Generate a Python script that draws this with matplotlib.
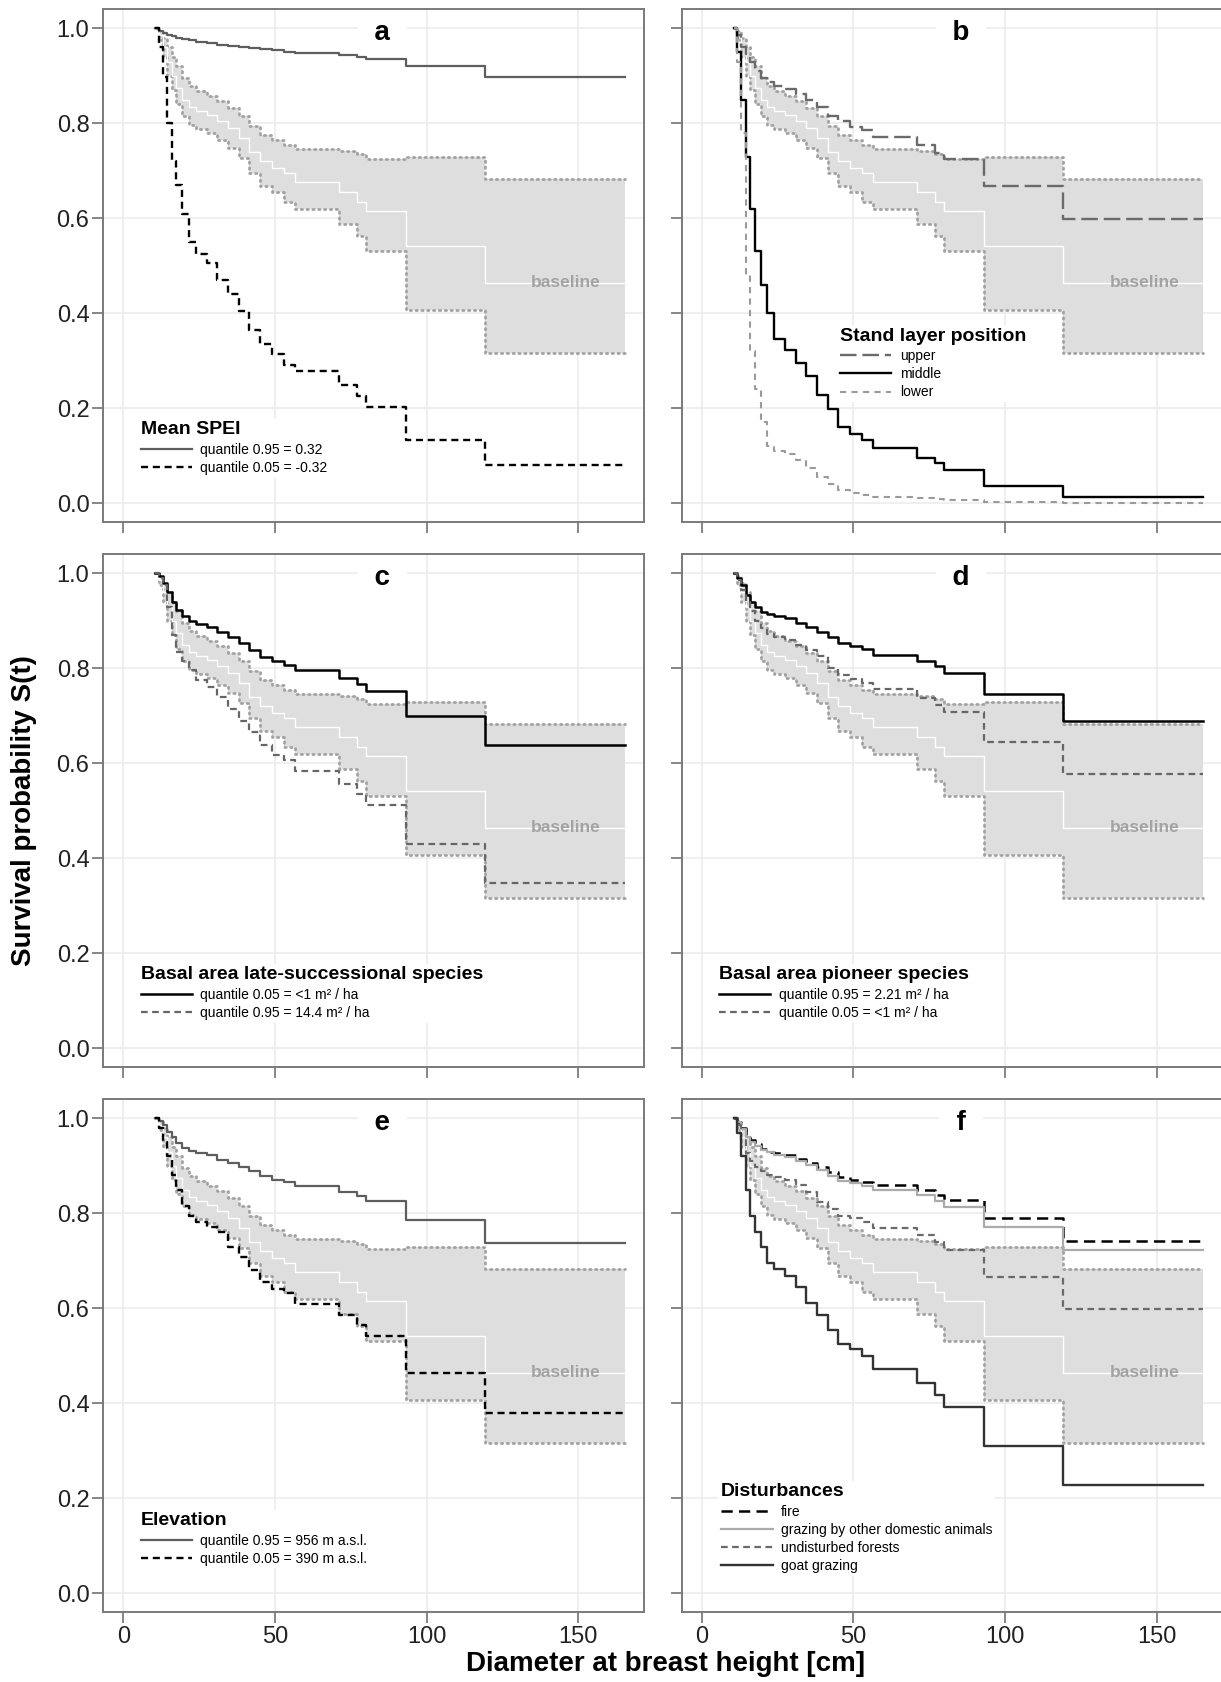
import matplotlib
matplotlib.use("Agg")
from matplotlib import pyplot as plt
from matplotlib.lines import Line2D

plt.rcParams['font.family'] = ['Liberation Sans', 'DejaVu Sans']

# =============================================================================
# Data: survival probability at diameter steps
# =============================================================================
t = [10.5, 11.8, 13, 14.5, 16, 17.5, 19.5, 21.5, 24, 27.5, 31, 34.5, 38, 41.5,
     45, 49, 53, 56.5, 71, 77, 80, 93.2, 119.3]
t_end = 165.3

base_mid = [1.0, 0.985, 0.96, 0.93, 0.90, 0.875, 0.85, 0.835, 0.826, 0.818, 0.805, 0.789,
            0.768, 0.74, 0.72, 0.706, 0.695, 0.676, 0.655, 0.635, 0.616, 0.541, 0.464]
base_hi = [1.0, 0.995, 0.98, 0.96, 0.94, 0.92, 0.895, 0.878, 0.868, 0.858, 0.846, 0.832,
           0.816, 0.795, 0.776, 0.765, 0.755, 0.745, 0.742, 0.735, 0.724, 0.730, 0.683]
base_lo = [1.0, 0.975, 0.94, 0.90, 0.87, 0.84, 0.815, 0.797, 0.787, 0.78, 0.765, 0.748,
           0.727, 0.695, 0.668, 0.655, 0.635, 0.62, 0.587, 0.562, 0.53, 0.406, 0.317]

# a - Mean SPEI
spei_q95 = [1.0, 0.995, 0.99, 0.986, 0.983, 0.98, 0.977, 0.975, 0.972, 0.968, 0.965, 0.963,
            0.961, 0.959, 0.957, 0.954, 0.951, 0.948, 0.943, 0.94, 0.936, 0.92, 0.898]
spei_q05 = [1.0, 0.96, 0.897, 0.8, 0.72, 0.67, 0.61, 0.55, 0.525, 0.505, 0.47, 0.44,
            0.405, 0.365, 0.335, 0.315, 0.292, 0.278, 0.249, 0.226, 0.203, 0.134, 0.08]
# b - stand layer position
layer_upper = [1.0, 0.985, 0.96, 0.945, 0.928, 0.91, 0.895, 0.886, 0.878, 0.872, 0.861, 0.85,
               0.834, 0.815, 0.804, 0.793, 0.785, 0.772, 0.754, 0.737, 0.724, 0.667, 0.598]
layer_middle = [1.0, 0.95, 0.85, 0.73, 0.62, 0.53, 0.46, 0.40, 0.345, 0.322, 0.295, 0.268,
                0.228, 0.199, 0.16, 0.145, 0.132, 0.117, 0.096, 0.085, 0.07, 0.036, 0.014]
layer_lower = [1.0, 0.93, 0.78, 0.48, 0.32, 0.24, 0.17, 0.121, 0.11, 0.103, 0.09, 0.074,
               0.055, 0.04, 0.028, 0.022, 0.018, 0.014, 0.011, 0.009, 0.006, 0.002, 0.001]
# c - basal area late-successional
late_q05 = [1.0, 0.995, 0.98, 0.96, 0.94, 0.922, 0.91, 0.9, 0.894, 0.887, 0.877, 0.866,
            0.853, 0.838, 0.824, 0.815, 0.807, 0.797, 0.779, 0.767, 0.752, 0.70, 0.638]
late_q95 = [1.0, 0.99, 0.975, 0.93, 0.87, 0.835, 0.815, 0.797, 0.775, 0.76, 0.74, 0.715,
            0.688, 0.665, 0.638, 0.618, 0.607, 0.584, 0.557, 0.536, 0.512, 0.431, 0.347]
# d - basal area pioneer
pion_q95 = [1.0, 0.99, 0.975, 0.955, 0.94, 0.928, 0.918, 0.914, 0.91, 0.905, 0.896, 0.886,
            0.877, 0.866, 0.854, 0.847, 0.84, 0.828, 0.816, 0.805, 0.791, 0.746, 0.69]
pion_q05 = [1.0, 0.985, 0.965, 0.94, 0.92, 0.9, 0.885, 0.872, 0.865, 0.86, 0.85, 0.838,
            0.825, 0.8, 0.785, 0.777, 0.77, 0.756, 0.738, 0.723, 0.707, 0.644, 0.577]
# e - elevation
elev_q95 = [1.0, 0.995, 0.985, 0.972, 0.96, 0.948, 0.938, 0.931, 0.926, 0.922, 0.913, 0.905,
            0.897, 0.888, 0.878, 0.871, 0.865, 0.857, 0.844, 0.836, 0.825, 0.785, 0.738]
elev_q05 = [1.0, 0.98, 0.95, 0.92, 0.88, 0.85, 0.815, 0.795, 0.782, 0.771, 0.76, 0.728,
            0.708, 0.68, 0.655, 0.64, 0.632, 0.61, 0.585, 0.564, 0.542, 0.463, 0.379]
# f - disturbances
dist_fire = [1.0, 0.993, 0.98, 0.965, 0.955, 0.945, 0.936, 0.93, 0.926, 0.923, 0.915, 0.906,
             0.898, 0.886, 0.876, 0.871, 0.866, 0.86, 0.849, 0.839, 0.828, 0.789, 0.742]
dist_graze = [1.0, 0.992, 0.978, 0.961, 0.95, 0.941, 0.933, 0.928, 0.922, 0.919, 0.911, 0.902,
              0.892, 0.879, 0.868, 0.864, 0.858, 0.849, 0.839, 0.826, 0.814, 0.772, 0.723]
dist_undist = [1.0, 0.985, 0.955, 0.926, 0.91, 0.898, 0.888, 0.881, 0.876, 0.87, 0.86, 0.845,
               0.823, 0.808, 0.795, 0.789, 0.782, 0.77, 0.754, 0.74, 0.723, 0.665, 0.598]
dist_goat = [1.0, 0.97, 0.92, 0.85, 0.795, 0.76, 0.728, 0.695, 0.682, 0.668, 0.645, 0.612,
             0.585, 0.555, 0.525, 0.514, 0.5, 0.472, 0.442, 0.418, 0.392, 0.309, 0.228]

# =============================================================================
# Panel definitions: (letter, legend title, legend x, legend top, curves)
# curve = (values, label, color, linestyle, linewidth)
# =============================================================================
DASH = (0, (3, 2))
panels = [
    ('a', 'Mean SPEI', 4.8, 0.178, [
        (spei_q95, 'quantile 0.95 = 0.32', '#5e5e5e', '-', 1.6),
        (spei_q05, 'quantile 0.05 = -0.32', 'black', DASH, 1.7)]),
    ('b', 'Stand layer position', 44.7, 0.375, [
        (layer_upper, 'upper', '#6a6a6a', (0, (7, 2.5)), 1.7),
        (layer_middle, 'middle', 'black', '-', 1.7),
        (layer_lower, 'lower', '#9a9a9a', (0, (3, 2.5)), 1.5)]),
    ('c', 'Basal area late-successional species', 4.8, 0.178, [
        (late_q05, 'quantile 0.05 = <1 m² / ha', 'black', '-', 1.8),
        (late_q95, 'quantile 0.95 = 14.4 m² / ha', '#666666', DASH, 1.6)]),
    ('d', 'Basal area pioneer species', 4.8, 0.178, [
        (pion_q95, 'quantile 0.95 = 2.21 m² / ha', 'black', '-', 1.8),
        (pion_q05, 'quantile 0.05 = <1 m² / ha', '#666666', DASH, 1.6)]),
    ('e', 'Elevation', 4.8, 0.176, [
        (elev_q95, 'quantile 0.95 = 956 m a.s.l.', '#5e5e5e', '-', 1.6),
        (elev_q05, 'quantile 0.05 = 390 m a.s.l.', 'black', DASH, 1.7)]),
    ('f', 'Disturbances', 5.5, 0.237, [
        (dist_fire, 'fire', 'black', (0, (4.5, 2.5)), 1.8),
        (dist_graze, 'grazing by other domestic animals', '#ababab', '-', 1.6),
        (dist_undist, 'undisturbed forests', '#6a6a6a', DASH, 1.6),
        (dist_goat, 'goat grazing', '#333333', '-', 1.7)]),
]

W, H = 1221, 1682
fig = plt.figure(figsize=(W / 100, H / 100), dpi=100)

lefts = [103.3, 681.7]
tops = [9.3, 554.3, 1099.3]
pw, ph = 541.0, 512.4

xs = t + [t_end]
DOT = (0, (0.5, 1.6))


def ext(v):
    return v + [v[-1]]


for i, (letter, ltitle, lx, ly, curves) in enumerate(panels):
    row, col = divmod(i, 2)
    ax = fig.add_axes([lefts[col] / W, 1 - (tops[row] + ph) / H, pw / W, ph / H])

    # baseline band
    ax.fill_between(xs, ext(base_lo), ext(base_hi), step='post', color='#dedede', lw=0, zorder=1)
    ax.step(xs, ext(base_hi), where='post', color='#a2a2a2', lw=2.0, ls=DOT,
            dash_capstyle='round', zorder=2)
    ax.step(xs, ext(base_lo), where='post', color='#a2a2a2', lw=2.0, ls=DOT,
            dash_capstyle='round', zorder=2)
    ax.step(xs, ext(base_mid), where='post', color='white', lw=1.0, zorder=2)
    ax.text(146, base_mid[-1], 'baseline', color='#a3a3a3', fontsize=12.5, fontweight='bold',
            ha='center', va='center', zorder=3)

    handles = []
    for vals, lab, colr, ls, lw in curves:
        ax.step(xs, ext(vals), where='post', color=colr, ls=ls, lw=lw, zorder=4)
        handles.append(Line2D([], [], color=colr, ls=ls, lw=lw))

    ax.text(85.5, 0.99, '  ' + letter + '  ', fontsize=20, fontweight='bold', ha='center',
            va='center', zorder=5,
            bbox=dict(boxstyle='square,pad=0.05', fc='white', ec='none'))

    leg = ax.legend(handles, [c[1] for c in curves], title=ltitle, loc='upper left',
                    bbox_to_anchor=(lx, ly), bbox_transform=ax.transData,
                    alignment='left', frameon=True, facecolor='white', edgecolor='none',
                    framealpha=1, fancybox=False, borderpad=0.2, borderaxespad=0,
                    handlelength=3.7, handletextpad=0.6, labelspacing=0.3,
                    prop={'size': 10}, title_fontproperties={'weight': 'bold', 'size': 14})
    leg.set_zorder(6)

    ax.set_xlim(-6.6, 171.8)
    ax.set_ylim(-0.039, 1.04)
    ax.set_xticks([0, 50, 100, 150])
    ax.set_yticks([0, 0.2, 0.4, 0.6, 0.8, 1.0])
    ax.set_yticklabels(['0.0', '0.2', '0.4', '0.6', '0.8', '1.0'])
    ax.grid(True, color='#ebebeb', lw=1.1, zorder=0)
    ax.set_axisbelow(True)
    ax.tick_params(length=8, width=1.1, color='#666666', pad=2, labelsize=17,
                   labelcolor='#222222')
    if col == 1:
        ax.tick_params(labelleft=False)
    if row < 2:
        ax.tick_params(labelbottom=False)
    for sp in ax.spines.values():
        sp.set_color('#7a7a7a')
        sp.set_linewidth(1.4)
        sp.set_zorder(7)

fig.text(0.0193, 0.518, 'Survival probability S(t)', rotation=90, fontsize=20,
         fontweight='bold', ha='center', va='center')
fig.text(0.545, 0.0105, 'Diameter at breast height [cm]', fontsize=20,
         fontweight='bold', ha='center', va='center')

fig.savefig('out.png', dpi=100)
